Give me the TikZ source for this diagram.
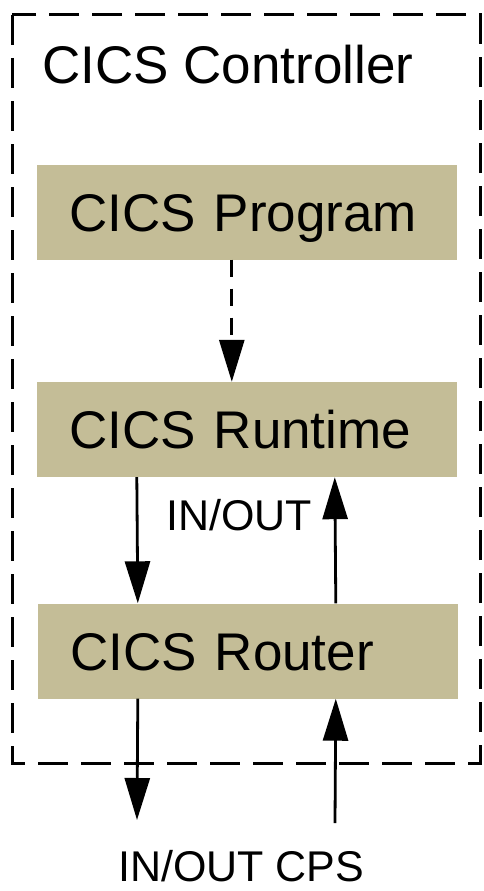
\documentclass[tikz,border=0pt]{standalone}
\usepackage{fontspec}
\setmainfont{Liberation Sans}
\usetikzlibrary{arrows.meta}
\definecolor{cicstan}{RGB}{196,189,151}
\tikzstyle{block} = [rectangle, fill=cicstan, minimum width=420pt, minimum height=95pt, text width=355pt, inner xsep=32.5pt, align=left, text height=38pt, text depth=0pt, font=\fontsize{53}{60}\selectfont]
\tikzstyle{flow} = [line width=2.8pt, -{Triangle[length=42pt,width=25pt]}]
\tikzstyle{lbl} = [inner sep=0pt, anchor=base west]

\begin{document}
\begin{tikzpicture}[x=1pt,y=-1pt]
\useasboundingbox (0,0) rectangle (483,891);
% controller frame
\draw[line width=3pt, dash pattern=on 30pt off 13pt] (12,15) rectangle (480,763);
\node[lbl, font=\fontsize{53}{60}\selectfont] (ctrl) at (42,83) {CICS Controller};
% blocks
\node[block] (prog) at (247,212) {CICS Program};
\node[block] (runtime) at (247,429.5) {CICS Runtime};
\node[block] (router) at (248,651) {CICS Router};
\coordinate (out) at (137,820);
\coordinate (in) at (335,823);
% connectors
\draw[flow, dash pattern=on 17pt off 12pt] ([xshift=195pt]prog.south west) -- ([xshift=195pt]runtime.north west);
\draw[flow] ([xshift=100pt]runtime.south west) -- ([xshift=100pt]router.north west);
\draw[flow] ([xshift=298pt]router.north west) -- ([xshift=298pt]runtime.south west);
\draw[flow] ([xshift=100pt]router.south west) -- (out);
\draw[flow] (in) -- ([xshift=298pt]router.south west);
% labels
\node[lbl, font=\fontsize{43}{50}\selectfont] (inout) at (166,530) {IN/OUT};
\node[lbl, font=\fontsize{43}{50}\selectfont] (cps) at (118,881) {IN/OUT CPS};
\end{tikzpicture}
\end{document}
